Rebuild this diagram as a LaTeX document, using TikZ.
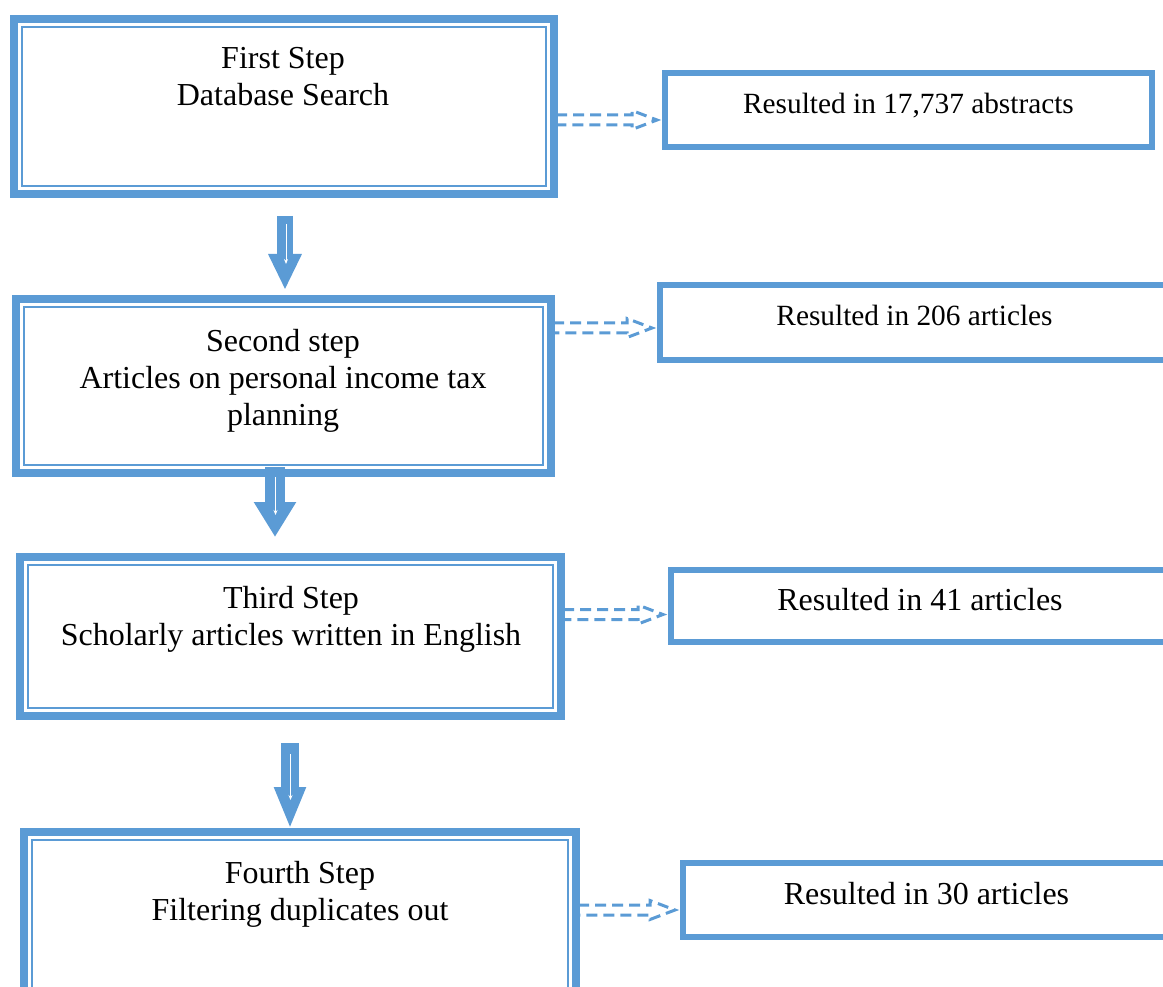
\documentclass[tikz,border=0pt]{standalone}
\usepackage{fontspec}
\setmainfont{Liberation Serif}
\usetikzlibrary{arrows.meta,positioning,calc}
\definecolor{boxblue}{RGB}{91,155,213}

\begin{document}
\begin{tikzpicture}[x=1pt,y=-1pt,
 stepbox/.style={draw=boxblue,line width=8pt,inner sep=0pt,
 path picture={\draw[boxblue,line width=2.5pt]
 ([shift={(8pt,-8pt)}]path picture bounding box.north west) rectangle
 ([shift={(-8pt,8pt)}]path picture bounding box.south east);}},
 steptext/.style={font=\fontsize{32}{37}\selectfont,align=center,anchor=north,inner sep=0pt},
 resbox/.style={draw=boxblue,line width=6pt,inner sep=0pt,
 font=\fontsize{29.33}{34}\selectfont,text height=20pt,text depth=13pt},
 bigres/.style={font=\fontsize{32}{37}\selectfont,text height=22pt,text depth=14pt},
 downarrow/.style n args={3}{draw=boxblue,line width=#1,
 -{Triangle[length=#2,width=#3]}},
 spine/.style={draw=white,line width=1pt,-{Stealth[length=5pt,width=4pt]}},
 hollow/.style={draw=boxblue,line width=3pt,line join=miter,dash pattern=on 11pt off 6pt,
 to path={($(\tikztostart)+(-2,-5)$) -- ($(\tikztotarget)+(-30,-5)$)
 -- ($(\tikztotarget)+(-30,-9.5)$) -- ($(\tikztotarget)+(-5,0)$)
 -- ($(\tikztotarget)+(-30,9.5)$) -- ($(\tikztotarget)+(-30,5)$)
 -- ($(\tikztostart)+(-2,5)$)}}]
\useasboundingbox (0,0) rectangle (1163,987);
\node[stepbox,minimum width=540pt,minimum height=175pt] (b1) at (284,106.5) {};
\node[stepbox,minimum width=535pt,minimum height=174pt] (b2) at (283.5,386) {};
\node[stepbox,minimum width=541pt,minimum height=159pt] (b3) at (290.5,636.5) {};
\node[stepbox,minimum width=552pt,minimum height=168pt] (b4) at (300,916) {};
\node[steptext] (t1) at (283,47) {First Step\\Database Search};
\node[steptext] (t2) at (283,329) {Second step\\Articles on personal income tax\\planning};
\node[steptext] (t3) at (291,586) {Third Step\\Scholarly articles written in English};
\node[steptext] (t4) at (300,861) {Fourth Step\\Filtering duplicates out};
\node[resbox,minimum width=487pt,minimum height=74pt] (r1) at (908.5,110) {Resulted in 17,737 abstracts};
\node[resbox,minimum width=509pt,minimum height=75pt] (r2) at (914.5,322.5) {Resulted in 206 articles};
\node[resbox,bigres,minimum width=498pt,minimum height=72pt] (r3) at (920,606) {Resulted in 41 articles};
\node[resbox,bigres,minimum width=487pt,minimum height=74pt] (r4) at (926.5,900) {Resulted in 30 articles};
\coordinate (h1) at (0,120);
\coordinate (h2) at (0,328);
\coordinate (h3) at (0,614.5);
\coordinate (h4) at (0,910);
\draw[hollow] (b1.east |- h1) to (r1.west |- h1);
\draw[hollow] (b2.east |- h2) to (r2.west |- h2);
\draw[hollow] (b3.east |- h3) to (r3.west |- h3);
\draw[hollow] (b4.east |- h4) to (r4.west |- h4);
\draw[downarrow={16pt}{36pt}{31pt}] (b1.south) ++(1,18) -- ++(0,74);
\draw[spine] (b1.south) ++(2,26) -- ++(0,40);
\draw[downarrow={20pt}{35pt}{40pt}] (b2.south) ++(-8.5,-10) -- ++(0,70);
\draw[spine] (b2.south) ++(-8,0) -- ++(0,38);
\draw[downarrow={18pt}{42pt}{29pt}] (b3.south) ++(-0.5,23) -- ++(0,86);
\draw[spine] (b3.south) ++(0,34) -- ++(0,46);
\end{tikzpicture}
\end{document}
